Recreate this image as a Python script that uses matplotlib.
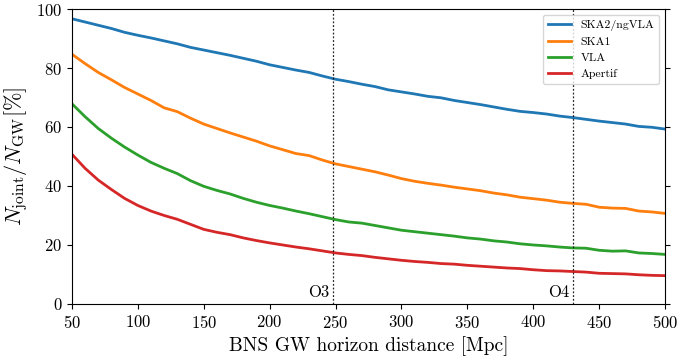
import numpy as np
import matplotlib
matplotlib.use("Agg")
import matplotlib.pyplot as plt

# --- Data ---
distance = np.arange(50, 510, 10)  # BNS horizon distance [Mpc]

ska2 = [96.7, 95.6, 94.5, 93.4, 92.1, 91.1, 90.2, 89.2, 88.2, 87.0,
        86.1, 85.2, 84.3, 83.3, 82.3, 81.1, 80.2, 79.3, 78.5, 77.3,
        76.2, 75.4, 74.5, 73.7, 72.6, 71.9, 71.2, 70.4, 69.9, 69.0,
        68.3, 67.6, 66.8, 66.0, 65.3, 64.9, 64.4, 63.7, 63.2, 62.6,
        62.0, 61.5, 61.0, 60.2, 59.9, 59.3]
ska1 = [84.7, 81.5, 78.5, 76.0, 73.4, 71.2, 69.0, 66.5, 65.2, 63.0,
        61.0, 59.5, 58.0, 56.6, 55.2, 53.6, 52.3, 51.0, 50.3, 48.8,
        47.5, 46.6, 45.7, 44.8, 43.7, 42.5, 41.6, 40.9, 40.3, 39.6,
        39.0, 38.4, 37.6, 37.0, 36.2, 35.7, 35.2, 34.5, 34.1, 33.8,
        32.8, 32.5, 32.4, 31.5, 31.2, 30.7]
vla = [67.9, 63.5, 59.5, 56.2, 53.2, 50.5, 48.0, 46.0, 44.2, 41.8,
       39.9, 38.5, 37.3, 35.8, 34.5, 33.4, 32.5, 31.5, 30.6, 29.6,
       28.6, 27.8, 27.4, 26.6, 25.8, 25.0, 24.5, 24.0, 23.5, 23.0,
       22.4, 22.0, 21.4, 21.0, 20.4, 20.0, 19.7, 19.3, 19.0, 18.9,
       18.2, 17.9, 18.0, 17.3, 17.1, 16.8]
apertif = [50.8, 46.0, 42.0, 38.8, 35.8, 33.4, 31.5, 30.0, 28.7, 27.0,
           25.3, 24.3, 23.5, 22.4, 21.5, 20.7, 20.0, 19.3, 18.7, 18.0,
           17.3, 16.8, 16.4, 15.8, 15.3, 14.8, 14.4, 14.1, 13.7, 13.5,
           13.1, 12.8, 12.5, 12.2, 12.0, 11.6, 11.3, 11.2, 11.0, 10.8,
           10.4, 10.3, 10.2, 9.9, 9.7, 9.6]

series = [("SKA2/ngVLA", ska2, "tab:blue"),
          ("SKA1", ska1, "tab:orange"),
          ("VLA", vla, "tab:green"),
          ("Apertif", apertif, "tab:red")]

runs = ["O3", "O4"]
run_distance = [248, 430]

# --- Style: LaTeX-like look ---
plt.rcParams["font.family"] = "serif"
plt.rcParams["font.serif"] = ["cmr10"]
plt.rcParams["mathtext.fontset"] = "cm"
plt.rcParams["axes.formatter.use_mathtext"] = True

fig, ax = plt.subplots(figsize=(6.78, 3.61), dpi=100)
fig.subplots_adjust(left=0.106, right=0.981, top=0.975, bottom=0.158)

for label, vals, color in series:
    ax.plot(distance, vals, color=color, lw=2, label=label)

# observing-run horizon markers
for name, d in zip(runs, run_distance):
    ax.axvline(d, color="black", ls=(0, (1.5, 1.5)), lw=0.9, alpha=0.85)
    ax.text(d - 3, 1.5, name, ha="right", va="bottom", fontsize=12)

ax.set_xlim(50, 500)
ax.set_ylim(0, 100)
ax.set_xticks(np.arange(50, 501, 50))
ax.set_yticks(np.arange(0, 101, 20))
ax.tick_params(labelsize=12, right=True)
ax.set_xlabel("BNS GW horizon distance [Mpc]", fontsize=14)
ax.set_ylabel(r"$N_{\rm joint}/N_{\rm GW} [\%]$", fontsize=16)

ax.legend(loc="upper right", fontsize=8.5)

fig.savefig("out.png", dpi=100)
